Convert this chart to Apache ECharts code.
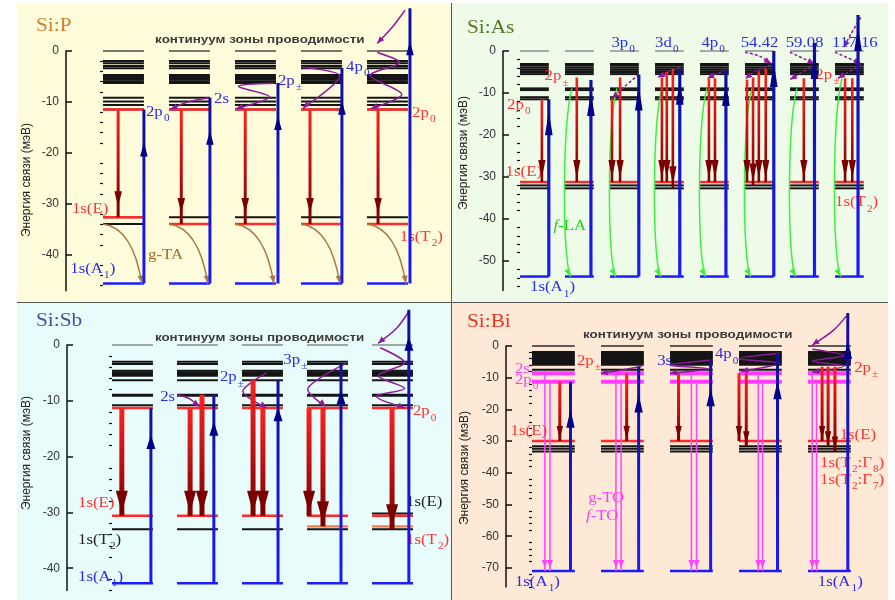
<!DOCTYPE html>
<html><head><meta charset="utf-8">
<script src="https://cdn.jsdelivr.net/npm/echarts@6/dist/echarts.min.js"></script>
<style>html,body{margin:0;padding:0;background:#fff}#c{width:895px;height:600px}</style>
</head><body><div id="c"></div><script>
// ================= DATA =================
// ---- Si:P (binding energies, meV) ----
const P_ticks = [0, -10, -20, -30, -40];
const P_black = [-1.96, -2.4, -2.94, -3.4, -4.7, -5.0, -5.3, -5.65, -6.0, -6.25, -9.15, -9.9, -10.6, -11.45, -32.6, -33.9];
const P_zero = 0;
const P_ground = -45.6;
const P_red = [[0, -11.48], [0, -32.6], [1, -11.48], [1, -33.9], [2, -11.48], [2, -33.9], [3, -11.48], [3, -33.9], [4, -11.48], [4, -33.9]];
const P_down = [[0, 0.37, -11.48, -32.6], [1, 0.3, -11.48, -33.9], [2, 0.25, -11.48, -33.9], [3, 0.22, -11.48, -33.9], [4, 0.27, -11.48, -33.9]];
const P_up = [[0, 1.0, -11.48], [1, 1.0, -9.15], [2, 1.05, -6.25], [3, 1.0, -3.3], [4, 1.05, 8.4]];
const P_phonon = [[0, 0, -33.9, 0.73, -34.7, 0.95, -45.6], [1, 0, -33.9, 0.73, -34.7, 0.95, -45.6], [2, 0, -33.9, 0.73, -34.7, 0.95, -45.6], [3, 0, -33.9, 0.73, -34.7, 0.95, -45.6], [4, 0, -33.9, 0.73, -34.7, 0.95, -45.6]];
const P_relax = [
  [1, [[1.0, -9.15], [0.5, -9.9], [0.03, -11.4]]],
  [2, [[0.95, -6.3], [0.08, -6.9], [0.85, -9.0], [0.03, -11.3]]],
  [3, [[0.02, -3.2], [0.95, -4.9], [0.05, -11.2]]],
  [4, [[0.93, 8.0], [0.6, 4.5], [0.25, 1.5]]],
  [4, [[0.25, -0.3], [0.8, -2.3], [0.08, -4.8], [0.85, -8.5], [0.1, -11.3]]]
];
const P_labels = [
  ['2p_0', 0, 1.05, -12.0, 'blue'], ['1s(E)', 0, -0.76, -31.0, 'red'], ['1s(A_1)', 0, -0.8, -42.8, 'blue'],
  ['g-TA', 0, 1.1, -40.2, 'brown'], ['2s', 1, 1.1, -9.6, 'blue'], ['2p_±', 2, 1.05, -6.0, 'blue'],
  ['4p_0', 3, 1.1, -3.3, 'blue'], ['2p_0', 4, 1.1, -12.2, 'red'], ['1s(T_2)', 4, 0.8, -36.5, 'red'],
  ['континуум зоны проводимости', 1, -0.34, 2.2, 'sans']
];

// ---- Si:As ----
const A_ticks = [0, -10, -20, -30, -40, -50];
const A_black = [-3.1, -3.5, -4.0, -4.5, -5.0, -5.5, -8.9, -9.3, -11.0, -11.5, -32.0, -32.7];
const A_zero = 0;
const A_ground = -53.7;
const A_red = [[0, -31.2], [1, -31.2], [2, -31.2], [3, -31.2], [4, -31.2], [5, -31.2], [6, -31.2], [7, -31.2]];
const A_down = [
  [0, 0.76, -11.5, -31.2], [1, 0.41, -6.3, -31.2], [2, 0.07, -11.3, -31.2], [2, 0.35, -6.3, -31.2],
  [3, 0.24, -6.3, -31.2], [3, 0.41, -5.0, -31.2], [3, 0.62, -4.2, -32.7],
  [4, 0.31, -6.5, -31.2], [4, 0.52, -6.5, -31.2],
  [5, 0.07, -6.8, -31.2], [5, 0.28, -6.3, -32.0], [5, 0.48, -4.8, -31.2], [5, 0.72, -4.2, -31.2],
  [6, 0.48, -6.5, -31.2], [7, 0.35, -6.5, -31.2], [7, 0.6, -6.5, -31.2]
];
const A_up = [[0, 1.0, -11.5], [1, 0.9, -6.9], [2, 1.0, -5.6], [3, 0.86, -4.2], [4, 0.9, -4.5], [5, 1.0, 0], [6, 0.85, 1.9], [7, 0.8, 8.6]];
const A_green = [[1, 0.24, -8.9, -0.1, 0.2, -53.7], [2, 0.24, -8.9, -0.1, 0.2, -53.7], [3, 0.24, -8.9, -0.1, 0.2, -53.7], [4, 0.24, -8.9, -0.1, 0.2, -53.7], [5, 0.24, -8.9, -0.1, 0.2, -53.7], [6, 0.24, -8.9, -0.1, 0.2, -53.7], [7, 0.24, -6.5, -0.1, 0.2, -53.7]];
const A_relax = [
  [2, [[1.0, -5.6], [0.5, -8.5], [0.07, -11.3]]],
  [3, [[0.86, -4.0], [0.45, -5.0], [0.1, -6.3]]],
  [4, [[0.9, -4.5], [0.55, -5.5], [0.25, -6.5]]],
  [5, [[0.0, -0.3], [0.5, -1.2], [0.9, -3.0]]], [5, [[0.9, -3.3], [0.4, -4.6], [0.0, -6.6]]],
  [6, [[0.0, -0.3], [0.85, -3.0]]], [6, [[0.85, -3.3], [0.0, -6.8]]],
  [7, [[0.9, 8.0], [0.55, 4.0], [0.3, 0.8]]], [7, [[0.0, -0.3], [0.9, -3.0]]], [7, [[0.9, -3.3], [0.1, -6.5]]]
];
const A_labels = [
  ['2p_0', 0, -0.45, -13.0, 'red'], ['2p_±', 0, 0.85, -6.2, 'red'], ['1s(E)', 0, -0.5, -29.0, 'red'],
  ['*f-LA', 1, -0.4, -41.7, 'green'], ['1s(A_1)', 0, 0.35, -56.4, 'blue'],
  ['3p_0', 2, 0.05, 1.7, 'blue'], ['3d_0', 3, 0.0, 1.7, 'blue'], ['4p_0', 4, 0.05, 1.7, 'blue'],
  ['54.42', 5, -0.15, 1.7, 'blue'], ['59.08', 6, -0.15, 1.7, 'blue'], ['117.16', 7, -0.1, 1.7, 'blue'],
  ['2p_±', 6, 0.88, -5.8, 'red'], ['1s(T_2)', 7, 0.0, -36.2, 'red']
];

// ---- Si:Sb ----
const S_ticks = [0, -10, -20, -30, -40];
const S_black = [-3.0, -3.4, -4.6, -4.9, -5.2, -5.5, -6.3, -8.9, -9.1, -10.8, -33.0];
const S_zero = 0;
const S_ground = -42.7;
const S_red = [[0, -11.3], [0, -30.6], [1, -11.3], [1, -30.6], [2, -11.3], [2, -30.6], [3, -11.3], [3, -30.6], [4, -11.3], [4, -30.6]];
const S_orange = [[3, -32.5], [4, -32.5]];
const S_blackExtra = [[4, -30.2]];
const S_down = [
  [0, 0.24, -11.3, -30.6], [1, 0.32, -11.3, -30.6], [1, 0.61, -8.9, -30.6],
  [2, 0.27, -6.3, -30.6], [2, 0.51, -11.3, -30.6], [3, 0.05, -11.3, -30.6], [3, 0.39, -11.3, -32.5],
  [4, 0.49, -11.3, -33.0]
];
const S_up = [[0, 0.95, -11.3], [1, 0.9, -8.9], [2, 0.88, -6.3], [3, 0.83, -3.3], [4, 0.9, 6.3]];
const S_relax = [
  [1, [[0.0, -8.9], [0.3, -9.6], [0.55, -11.0]]],
  [2, [[0.6, -5.0], [0.02, -8.3], [0.6, -11.3]]],
  [3, [[0.95, -3.3], [0.02, -7.8], [0.45, -11.0]]],
  [4, [[0.9, 6.0], [0.6, 3.0], [0.15, 0.3]]],
  [4, [[0.2, -0.5], [0.8, -3.2], [0.15, -5.5], [0.8, -7.8], [0.1, -9.2], [0.8, -11.3]]]
];
const S_labels = [
  ['1s(E)', 0, -0.83, -28.4, 'red'], ['1s(T_2)', 0, -0.83, -35.0, 'black'], ['1s(A_1)', 0, -0.83, -41.6, 'blue'],
  ['2s', 1, -0.41, -9.5, 'blue'], ['2p_±', 2, -0.54, -5.9, 'blue'], ['3p_±', 3, -0.58, -2.7, 'blue'],
  ['2p_0', 4, 1.0, -12.0, 'red'], ['1s(E)', 4, 0.83, -28.2, 'black'], ['1s(T_2)', 4, 0.83, -35.0, 'red'],
  ['континуум зоны проводимости', 1, -0.54, 1.3, 'sans']
];

// ---- Si:Bi ----
const B_ticks = [0, -10, -20, -30, -40, -50, -60, -70];
const B_black = [-1.9, -2.3, -2.7, -3.1, -3.5, -3.9, -4.3, -4.7, -5.1, -5.5, -5.9, -7.5, -31.6, -32.4, -33.3];
const B_zero = 0;
const B_ground = -71.0;
const B_magLevels = [-8.6, -11.3];
const B_red = [[0, -30.0], [1, -30.0], [2, -30.0], [3, -30.0], [4, -30.0]];
const B_down = [
  [0, 0.65, -11.3, -30.0], [1, 0.6, -8.6, -30.0], [2, 0.2, -8.6, -30.0],
  [3, 0.0, -8.6, -30.0], [3, 0.17, -8.6, -31.6],
  [4, 0.33, -6.5, -30.0], [4, 0.47, -6.5, -31.6], [4, 0.63, -6.5, -33.3]
];
const B_mag = [[0, 0.3, -8.6], [0, 0.42, -11.3], [1, 0.35, -8.6], [1, 0.47, -11.3], [2, 0.5, -8.6], [2, 0.62, -11.3], [3, 0.45, -8.6], [3, 0.55, -11.3], [4, 0.1, -8.6], [4, 0.2, -11.3]];
const B_up = [[0, 0.9, -11.3], [1, 0.88, -6.5], [2, 0.95, -4.5], [3, 0.9, -2.3], [4, 0.93, 10.4]];
const B_relax = [
  [1, [[0.95, -6.5], [0.4, -7.8], [0.0, -8.6]]],
  [2, [[0.95, -4.5], [0.0, -6.0], [0.9, -7.2], [0.0, -8.6]]],
  [3, [[0.95, -2.3], [0.0, -4.0], [0.95, -5.5], [0.05, -8.0]]],
  [4, [[0.9, 9.5], [0.6, 5.0], [0.1, 0.3]]],
  [4, [[0.1, -1.0], [0.85, -3.0], [0.1, -4.8], [0.85, -6.3], [0.1, -8.3]]]
];
const B_labels = [
  ['2s', 0, -0.4, -7.5, 'magenta'], ['2p_0', 0, -0.4, -11.0, 'magenta'], ['1s(E)', 0, -0.5, -27.0, 'red'],
  ['g-TO', 1, -0.3, -48.2, 'magenta'], ['*f-TO', 1, -0.35, -53.7, 'magenta'], ['1s(A_1)', 0, -0.4, -74.5, 'blue'],
  ['2p_±', 0, 1.05, -5.0, 'red'], ['3s', 2, -0.3, -5.0, 'blue'], ['4p_0', 2, 1.05, -2.8, 'blue'],
  ['2p_±', 4, 1.08, -7.0, 'red'], ['1s(E)', 4, 0.74, -28.1, 'red'],
  ['1s(T_2:Γ_8)', 4, 0.28, -37.0, 'red'], ['1s(T_2:Γ_7)', 4, 0.28, -42.4, 'red'], ['1s(A_1)', 4, 0.23, -74.5, 'blue'],
  ['континуум зоны проводимости', 1, -0.42, 3.5, 'sans']
];

// ================= LAYOUT / STYLE =================
const LAYOUT = {
  P:  {axisX: 66,  col0: 103, pitch: 66, W: 0.62, ncol: 5, top0: 51,  ppu: 5.1,  ymin: -47},
  As: {axisX: 503, col0: 520, pitch: 45, W: 0.64, ncol: 8, top0: 51,  ppu: 4.2,  ymin: -57},
  Sb: {axisX: 67,  col0: 112, pitch: 65, W: 0.63, ncol: 5, top0: 345, ppu: 5.58, ymin: -44},
  Bi: {axisX: 506, col0: 532, pitch: 69, W: 0.62, ncol: 5, top0: 346, ppu: 3.17, ymin: -76}
};
const STYLE = {
  P:  {zero: {c: '#4a4a4a', w: 1.5}, dLw: 3, dHw: 3.8, dHl: 15, dTip: 11, uLw: 3, uHw: 3.8, uHl: 14, uTip: 33, dash: null},
  As: {zero: {c: '#a8a8a8', w: 2}, dLw: 2.6, dHw: 3.6, dHl: 18, dTip: 4, uLw: 3.2, uHw: 3.8, uHl: 24, uTip: 12, dash: [3, 2]},
  Sb: {zero: {c: '#8a8a8a', w: 1.5}, dLw: 5, dHw: 6, dHl: 22, dTip: 3, uLw: 3, uHw: 4.5, uHl: 14, uTip: 27, dash: null},
  Bi: {zero: {c: '#2a2a2a', w: 1.5}, dLw: 3, dHw: 3.2, dHl: 13, dTip: 2, uLw: 3, uHw: 4.2, uHl: 18, uTip: 28, dash: null}
};
const LEVEL_KIND = [{c: '#151515', w: 2}, null, {c: '#ff2a2a', w: 2.5}, {c: '#1c1cff', w: 2.5}, {c: '#ff3cff', w: 4}, {c: '#ff7848', w: 2.2}];
const LABEL_KIND = {
  blue: '#2b2bee', red: '#ff3434', green: '#26cc26', brown: '#a06a2c', magenta: '#ff3cff', black: '#222222', sans: '#3a3a3a'
};
const SERIF = '"Liberation Serif", "DejaVu Serif", serif';
const SANS = '"Liberation Sans", Arial, sans-serif';

function richText(t) {
  let out = '', buf = '';
  for (let k = 0; k < t.length; k++) {
    const ch = t[k];
    if (ch === '_' || ch === '*') {
      if (buf) { out += '{m|' + buf + '}'; buf = ''; }
      out += (ch === '_' ? '{s|' : '{i|') + t[k + 1] + '}';
      k++;
    } else buf += ch;
  }
  if (buf) out += '{m|' + buf + '}';
  return out;
}
function head(x2, y2, x1, y1, len, hw, color) {
  const a = Math.atan2(y2 - y1, x2 - x1);
  const bx = x2 - len * Math.cos(a), by = y2 - len * Math.sin(a);
  const nx = -Math.sin(a), ny = Math.cos(a);
  return {type: 'polygon', shape: {points: [[x2, y2], [bx + nx * hw, by + ny * hw], [bx - nx * hw, by - ny * hw]]}, style: {fill: color}};
}
function minorTicks(ymin) { const r = []; for (let v = 0; v >= ymin; v -= 2) if (v % 10 !== 0) r.push(v); return r; }

const grids = [], xAxes = [], yAxes = [], series = [];

function panel(i, L, S, D) {
  const xmin = (L.axisX - L.col0) / L.pitch, xmax = L.ncol;
  grids.push({left: L.axisX, top: L.top0, width: (xmax - xmin) * L.pitch, height: -L.ymin * L.ppu});
  xAxes.push({gridIndex: i, type: 'value', min: xmin, max: xmax, show: false});
  yAxes.push({gridIndex: i, type: 'value', min: L.ymin, max: 0,
    axisLine: {show: true, onZero: false, lineStyle: {color: '#111', width: 1.5}},
    axisTick: {show: true, inside: true, length: 6, customValues: D.ticks, lineStyle: {color: '#111', width: 1.5}},
    axisLabel: {customValues: D.ticks, fontSize: 12, color: '#333', fontFamily: SANS, margin: 7},
    splitLine: {show: false}});
  yAxes.push({gridIndex: i, type: 'value', min: L.ymin, max: 0,
    axisLine: {show: false}, axisTick: {show: true, inside: true, length: 3, customValues: minorTicks(L.ymin), lineStyle: {color: '#111', width: 1.2}},
    axisLabel: {show: false}, splitLine: {show: false}});
  const base = {type: 'custom', xAxisIndex: i, yAxisIndex: 2 * i, clip: false, silent: true, animation: false};
  const W = L.W;

  // levels
  const lv = [];
  for (let c = 0; c < L.ncol; c++) { lv.push([c, D.zero, 1]); D.black.forEach(e => lv.push([c, e, 0])); }
  (D.blackExtra || []).forEach(r => lv.push([r[0], r[1], 0]));
  (D.magLevels || []).forEach(e => { for (let c = 0; c < L.ncol; c++) lv.push([c, e, 4]); });
  D.red.forEach(r => lv.push([r[0], r[1], 2]));
  (D.orange || []).forEach(r => lv.push([r[0], r[1], 5]));
  for (let c = 0; c < L.ncol; c++) lv.push([c, D.ground, 3]);
  series.push(Object.assign({}, base, {z: 2, data: lv, renderItem: (p, api) => {
    const c = api.value(0), e = api.value(1), k = api.value(2);
    const a = api.coord([c, e]), b = api.coord([c + W, e]);
    const st = k === 1 ? S.zero : LEVEL_KIND[k];
    return {type: 'line', shape: {x1: a[0], y1: a[1], x2: b[0], y2: b[1]}, style: {stroke: st.c, lineWidth: st.w}};
  }}));

  // phonon (brown) curves
  if (D.phonon) series.push(Object.assign({}, base, {z: 3, data: D.phonon, renderItem: (p, api) => {
    const c = api.value(0);
    const a = api.coord([c + api.value(1) * W, api.value(2)]);
    const q = api.coord([c + api.value(3) * W, api.value(4)]);
    const b = api.coord([c + api.value(5) * W, api.value(6)]);
    return {type: 'group', children: [
      {type: 'bezierCurve', shape: {x1: a[0], y1: a[1], x2: b[0], y2: b[1], cpx1: q[0], cpy1: q[1]}, style: {stroke: '#a87a44', lineWidth: 1.5, fill: null}},
      head(b[0], b[1], q[0], q[1], 8, 3, '#a87a44')]};
  }}));
  // green curves
  if (D.green) series.push(Object.assign({}, base, {z: 3, data: D.green, renderItem: (p, api) => {
    const c = api.value(0);
    const a = api.coord([c + api.value(1) * W, api.value(2)]);
    const xb = api.coord([c + api.value(3) * W, 0])[0];
    const b = api.coord([c + api.value(4) * W, api.value(5)]);
    const dy = b[1] - a[1];
    const c1 = [xb, a[1] + dy * 0.2], c2 = [xb, b[1] - dy * 0.08];
    return {type: 'group', children: [
      {type: 'bezierCurve', shape: {x1: a[0], y1: a[1], x2: b[0], y2: b[1], cpx1: c1[0], cpy1: c1[1], cpx2: c2[0], cpy2: c2[1]}, style: {stroke: '#3ef03e', lineWidth: 1.5, fill: null}},
      head(b[0], b[1], c2[0], c2[1], 8, 3, '#3ef03e')]};
  }}));
  // relaxation (purple) polylines
  series.push(Object.assign({}, base, {z: 3, data: D.relax.map(r => [r[0]]), renderItem: (p, api) => {
    const r = D.relax[p.dataIndex];
    const pts = r[1].map(q => api.coord([r[0] + q[0] * W, q[1]]));
    const n = pts.length;
    return {type: 'group', children: [
      {type: 'polyline', shape: {points: pts, smooth: 0.3}, style: {stroke: '#8c1c9c', lineWidth: 1.5, fill: null, lineDash: S.dash}},
      head(pts[n - 1][0], pts[n - 1][1], pts[n - 2][0], pts[n - 2][1], 7, 3, '#8c1c9c')]};
  }}));
  // magenta thin arrows
  if (D.mag) series.push(Object.assign({}, base, {z: 4, data: D.mag, renderItem: (p, api) => {
    const a = api.coord([api.value(0) + api.value(1) * W, api.value(2)]);
    const y2 = api.coord([0, D.ground])[1];
    return {type: 'group', children: [
      {type: 'line', shape: {x1: a[0], y1: a[1], x2: a[0], y2: y2}, style: {stroke: '#ff44ff', lineWidth: 1.5}},
      head(a[0], y2 - 3, a[0], a[1], 8, 3, '#ff44ff')]};
  }}));
  // labels
  series.push(Object.assign({}, base, {z: 5, data: D.labels.map(r => [r[1]]), renderItem: (p, api) => {
    const r = D.labels[p.dataIndex];
    const pt = api.coord([r[1] + r[2] * W, r[3]]);
    const col = LABEL_KIND[r[4]];
    if (r[4] === 'sans') {
      return {type: 'text', x: pt[0], y: pt[1], scaleX: 1.22, style: {text: r[0], fill: col, font: 'bold 11px ' + SANS, verticalAlign: 'middle'}};
    }
    return {type: 'text', x: pt[0], y: pt[1], scaleX: 1.12, style: {text: richText(r[0]), verticalAlign: 'middle', align: 'left',
      rich: {
        m: {fill: col, fontFamily: SERIF, fontSize: 15, lineHeight: 16, verticalAlign: 'top'},
        i: {fill: col, fontFamily: SERIF, fontSize: 15, lineHeight: 16, fontStyle: 'italic', verticalAlign: 'top'},
        s: {fill: col, fontFamily: SERIF, fontSize: 10, lineHeight: 10, padding: [9, 0, 0, 1], verticalAlign: 'top'}
      }}};
  }}));
  // red down arrows
  series.push(Object.assign({}, base, {z: 6, data: D.down, renderItem: (p, api) => {
    const a = api.coord([api.value(0) + api.value(1) * W, api.value(2)]);
    const y2 = api.coord([0, api.value(3)])[1];
    const x = a[0], tip = y2 - S.dTip, bs = tip - S.dHl;
    const g = new echarts.graphic.LinearGradient(x, a[1], x, y2, [{offset: 0, color: '#ff2020'}, {offset: 1, color: '#7e0000'}], true);
    return {type: 'group', children: [
      {type: 'line', shape: {x1: x, y1: a[1], x2: x, y2: y2}, style: {stroke: g, lineWidth: S.dLw}},
      {type: 'polygon', shape: {points: [[x - S.dHw, bs], [x + S.dHw, bs], [x, tip]]}, style: {fill: '#7a0000'}}]};
  }}));
  // blue up arrows
  series.push(Object.assign({}, base, {z: 7, data: D.up, renderItem: (p, api) => {
    const a = api.coord([api.value(0) + api.value(1) * W, api.value(2)]);
    const y0 = api.coord([0, D.ground])[1];
    const x = a[0], tip = a[1] + S.uTip, bs = tip + S.uHl;
    const g = new echarts.graphic.LinearGradient(x, y0, x, a[1], [{offset: 0, color: '#1a1aff'}, {offset: 1, color: '#10109a'}], true);
    return {type: 'group', children: [
      {type: 'line', shape: {x1: x, y1: y0, x2: x, y2: a[1]}, style: {stroke: g, lineWidth: S.uLw}},
      {type: 'polygon', shape: {points: [[x - S.uHw, bs], [x + S.uHw, bs], [x, tip]]}, style: {fill: '#00008a'}}]};
  }}));
}

panel(0, LAYOUT.P, STYLE.P, {ticks: P_ticks, black: P_black, zero: P_zero, ground: P_ground, red: P_red, down: P_down, up: P_up, phonon: P_phonon, relax: P_relax, labels: P_labels});
panel(1, LAYOUT.As, STYLE.As, {ticks: A_ticks, black: A_black, zero: A_zero, ground: A_ground, red: A_red, down: A_down, up: A_up, green: A_green, relax: A_relax, labels: A_labels});
panel(2, LAYOUT.Sb, STYLE.Sb, {ticks: S_ticks, black: S_black, zero: S_zero, ground: S_ground, red: S_red, orange: S_orange, blackExtra: S_blackExtra, down: S_down, up: S_up, relax: S_relax, labels: S_labels});
panel(3, LAYOUT.Bi, STYLE.Bi, {ticks: B_ticks, black: B_black, zero: B_zero, ground: B_ground, red: B_red, magLevels: B_magLevels, down: B_down, mag: B_mag, up: B_up, relax: B_relax, labels: B_labels});

const TITLES = [['Si:P', 36, 26, '#cc8030'], ['Si:As', 467, 28, '#557a22'], ['Si:Sb', 36, 321, '#4d4d99'], ['Si:Bi', 467, 322, '#ee3322']];
const AXIS_NAME = 'Энергия связи (мэВ)';
const NAME_POS = [[27, 180], [464, 153], [27, 453], [465, 468]];

const graphic = [
  {type: 'rect', shape: {x: 17, y: 3, width: 434, height: 299}, style: {fill: '#fffcdc'}, z: -10},
  {type: 'rect', shape: {x: 452, y: 3, width: 436, height: 299}, style: {fill: '#eefbe8'}, z: -10},
  {type: 'rect', shape: {x: 17, y: 303, width: 434, height: 297}, style: {fill: '#e8fcfc'}, z: -10},
  {type: 'rect', shape: {x: 452, y: 303, width: 436, height: 297}, style: {fill: '#fde9d6'}, z: -10},
  {type: 'line', shape: {x1: 451.5, y1: 3, x2: 451.5, y2: 600}, style: {stroke: '#555', lineWidth: 1}, z: -9},
  {type: 'line', shape: {x1: 17, y1: 302.5, x2: 888, y2: 302.5}, style: {stroke: '#555', lineWidth: 1}, z: -9}
];
TITLES.forEach(t => graphic.push({type: 'text', x: t[1], y: t[2], scaleX: 1.12, z: 50, style: {text: t[0], fill: t[3], font: '19px ' + SERIF, verticalAlign: 'middle'}}));
NAME_POS.forEach(p => graphic.push({type: 'text', x: p[0], y: p[1], rotation: Math.PI / 2, z: 50, style: {text: AXIS_NAME, fill: '#222', font: '12px ' + SANS, align: 'center', verticalAlign: 'middle'}}));

const chart = echarts.init(document.getElementById('c'), null, {renderer: 'canvas'});
chart.setOption({animation: false, grid: grids, xAxis: xAxes, yAxis: yAxes, series: series, graphic: graphic});
</script></body></html>
